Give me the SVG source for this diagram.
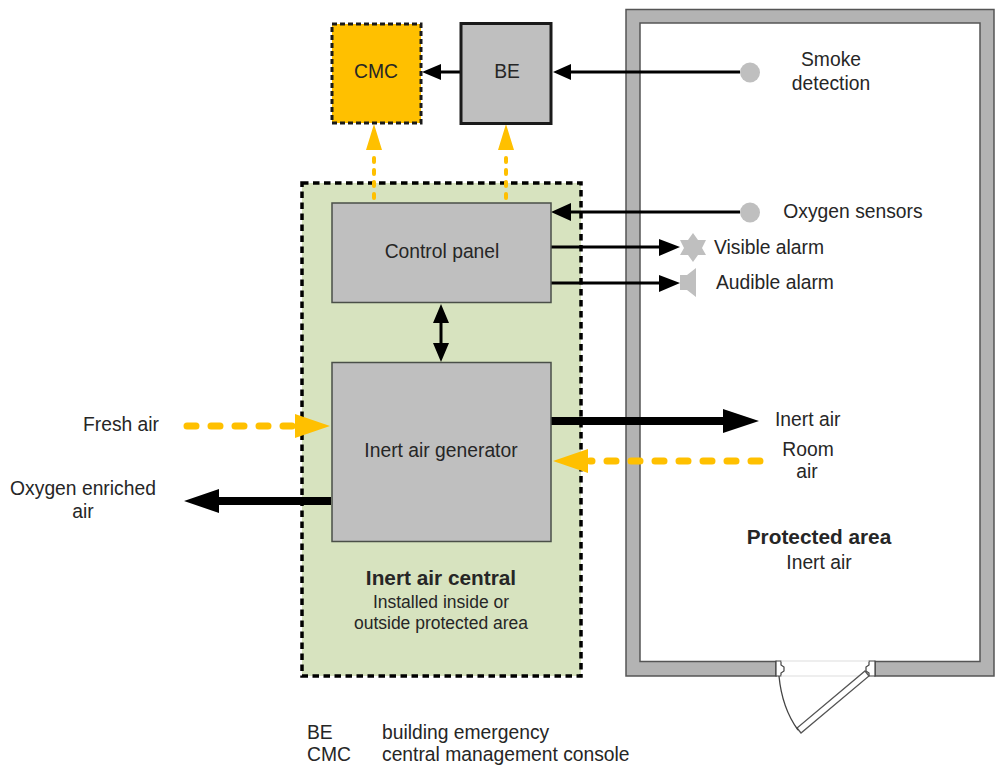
<svg xmlns="http://www.w3.org/2000/svg" width="1003" height="769" viewBox="0 0 1003 769">
<style>
text{font-family:"Liberation Sans",Arial,sans-serif;font-size:19.300px;fill:#262626;text-anchor:middle}
.l{text-anchor:start}
.b{font-weight:bold;font-size:20.800px}
.s{font-size:17.500px}
.box{fill:#bfbfbf;stroke:#4a4f48;stroke-width:1.500}
.blk{fill:none;stroke:#000;stroke-width:3}
.thk{fill:none;stroke:#000;stroke-width:8}
.yel{fill:none;stroke:#ffc000;stroke-linecap:round}
.ah{fill:#000}
.ay{fill:#ffc000}
.gr{fill:#bfbfbf}
</style>
<rect width="1003" height="769" fill="#fff"/>
<g id="protected-area">
<path d="M626 9.500H994V676H875V661.500H980V23H640V661.500H776V676H626Z" fill="#b3b3b3" stroke="#555" stroke-width="1.500"/>
<path d="M776 661H781V665L784 667V671L781 673V676H776ZM875 661H869V665L866 667V671L869 673V676H875Z" fill="#fff" stroke="#444" stroke-width="1.200"/>
<path d="M781 661H869M781 676H866" stroke="#ddd" stroke-width="1" fill="none"/>
<path d="M865 671L869 676L801 733L797 728Z" fill="#fff" stroke="#555" stroke-width="1.300"/>
<path d="M779 676Q782 708 798 730" fill="none" stroke="#444" stroke-width="1.300"/>
<text x="819" y="544" class="b">Protected area</text>
<text x="819" y="569">Inert air</text>
</g>
<g id="inert-air-central">
<rect x="302" y="183" width="279" height="493" fill="#d7e3bf" stroke="#000" stroke-width="3.500" stroke-dasharray="6.500 4.500"/>
<text x="441" y="585" class="b">Inert air central</text>
<text x="441" y="608" class="s">Installed inside or</text>
<text x="441" y="629" class="s">outside protected area</text>
</g>
<g id="connectors">
<path class="blk" d="M740 72H570M461 72H438M740 212H570M551 247H664M551 283H664M441 321V345"/>
<path class="ah" d="M553 72L571 64V80ZM422 72L441 64V80ZM551 212L571 203V221ZM680 247L659 239V256ZM680 283L659 275V292ZM441 304L449 323H433ZM441 362L449 343H433Z"/>
<path class="yel" stroke-width="4" stroke-dasharray="4 8" d="M374 198V150M506 198V150"/>
<path class="ay" d="M374 124L382 150H366ZM506 124L514 150H498Z"/>
<path class="yel" stroke-width="7" stroke-dasharray="9 15" d="M187 426H296"/>
<path class="ay" d="M330 426L295 414V438Z"/>
<path class="yel" stroke-width="7" stroke-dasharray="9 15" d="M760 461H590"/>
<path class="ay" d="M553 461L588 449V473Z"/>
<path class="thk" d="M551 421H726M331 501H218"/>
<path class="ah" d="M759 421L723 409V433ZM184 501L219 489V513Z"/>
</g>
<g id="cmc">
<rect x="332" y="24" width="89" height="99" fill="#ffc000" stroke="#1a1a1a" stroke-width="3" stroke-dasharray="5 3"/>
<text x="376" y="78">CMC</text>
</g>
<g id="be">
<rect x="461" y="23.500" width="90" height="100" fill="#bfbfbf" stroke="#1a1a1a" stroke-width="3"/>
<text x="507" y="78">BE</text>
</g>
<g id="control-panel">
<rect class="box" x="332" y="203" width="219" height="99.500"/>
<text x="442" y="258">Control panel</text>
</g>
<g id="inert-air-generator">
<rect class="box" x="332" y="362.500" width="219" height="179"/>
<text x="441" y="457">Inert air generator</text>
</g>
<g id="smoke-detection">
<circle class="gr" cx="750" cy="72.500" r="10"/>
<text x="831" y="66">Smoke</text>
<text x="831" y="90">detection</text>
</g>
<g id="oxygen-sensors">
<circle class="gr" cx="750" cy="212.500" r="10"/>
<text x="853" y="218">Oxygen sensors</text>
</g>
<g id="visible-alarm">
<path class="gr" d="M693 233L698 240H706L702 248L706 255H698L693 262L688 255H680L684 248L680 240H688Z"/>
<text x="714" y="254" class="l">Visible alarm</text>
</g>
<g id="audible-alarm">
<path class="gr" d="M680 275H687L696 268V297L687 290H680Z"/>
<text x="716" y="289" class="l">Audible alarm</text>
</g>
<g id="labels">
<text x="121" y="431">Fresh air</text>
<text x="83" y="495">Oxygen enriched</text>
<text x="83" y="518">air</text>
<text x="775" y="426" class="l">Inert air</text>
<text x="808" y="456">Room</text>
<text x="807" y="478">air</text>
<text x="307" y="739" class="l">BE</text>
<text x="382" y="739" class="l">building emergency</text>
<text x="307" y="761" class="l">CMC</text>
<text x="382" y="761" class="l">central management console</text>
</g>
</svg>
